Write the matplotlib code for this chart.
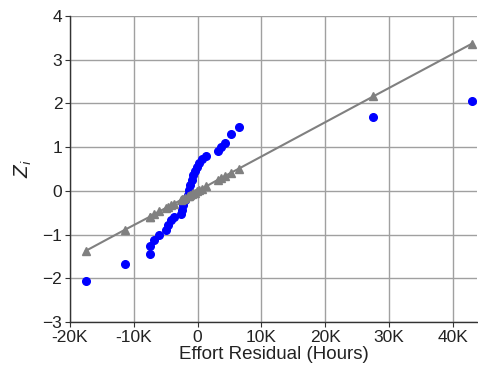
import matplotlib
matplotlib.use("Agg")
import matplotlib.pyplot as plt
from matplotlib.ticker import FuncFormatter

plt.rcParams['font.family'] = ['Liberation Sans', 'DejaVu Sans']

# Sorted effort residuals (thousands of hours) and their normal scores
residual_k = [-17.5, -11.4, -7.47, -7.47, -6.8, -6.0, -4.97, -4.7, -4.18, -3.67,
              -2.62, -2.46, -2.26, -1.99, -1.57, -1.36, -1.2, -0.9, -0.69, -0.47,
              -0.16, 0.16, 0.63, 1.3, 3.13, 3.65, 4.28, 5.17, 6.47, 27.5, 43.0]
z_score = [-2.06, -1.68, -1.44, -1.25, -1.12, -1.01, -0.89, -0.78, -0.66, -0.59,
           -0.53, -0.44, -0.32, -0.22, -0.09, 0.02, 0.135, 0.25, 0.36, 0.46,
           0.54, 0.63, 0.72, 0.80, 0.91, 1.01, 1.10, 1.29, 1.45, 1.70, 2.06]
# Standardised residuals under the fitted normal
z_fit = [-1.37, -0.89, -0.59, -0.59, -0.53, -0.47, -0.39, -0.37, -0.33, -0.29,
         -0.21, -0.19, -0.18, -0.16, -0.12, -0.11, -0.09, -0.07, -0.05, -0.04,
         -0.01, 0.01, 0.05, 0.10, 0.25, 0.29, 0.34, 0.41, 0.51, 2.16, 3.37]

x_ticks_k = [-20, -10, 0, 10, 20, 30, 40]
y_ticks = [-3, -2, -1, 0, 1, 2, 3, 4]

fig = plt.figure(figsize=(4.78, 3.70), dpi=100)
ax = fig.add_axes([70 / 478, 48 / 370, 407 / 478, 306 / 370])

residual = [v * 1000 for v in residual_k]
ax.plot(residual, z_score, 'o', color='#0000ff', markersize=5.5, zorder=3)
ax.plot(residual, z_fit, '^-', color='#808080', markersize=5.5, linewidth=1.5, zorder=4)

ax.set_xlim(-20000, 43760)
ax.set_ylim(-3, 4)
ax.set_xticks([v * 1000 for v in x_ticks_k])
ax.set_yticks(y_ticks)
ax.xaxis.set_major_formatter(FuncFormatter(
    lambda v, pos: '0' if v == 0 else f"{int(round(v / 1000))}K"))

ax.grid(True, color='#a0a0a0', linewidth=1.0, zorder=0)
ax.set_axisbelow(True)
for side in ('top', 'right'):
    ax.spines[side].set_visible(False)
for side in ('left', 'bottom'):
    ax.spines[side].set_color('#333333')
    ax.spines[side].set_linewidth(1.0)
ax.tick_params(axis='both', labelsize=12.5, length=3.5, color='#333333',
               labelcolor='#222222', pad=2)

ax.set_xlabel('Effort Residual (Hours)', fontsize=13.5, color='#222222', labelpad=1)
ax.set_ylabel('$Z_i$', fontsize=13.5, color='#222222', labelpad=6)

fig.savefig('out.png', dpi=100)
